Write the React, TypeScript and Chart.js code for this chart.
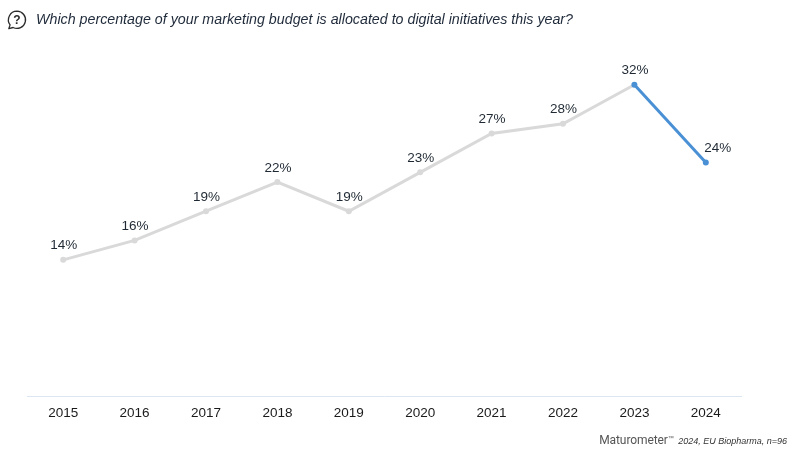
import React, { useEffect, useRef } from "react";
import { Chart, registerables } from "chart.js";

Chart.register(...registerables);

const years = ["2015", "2016", "2017", "2018", "2019", "2020", "2021", "2022", "2023", "2024"];
const percentages = [14, 16, 19, 22, 19, 23, 27, 28, 32, 24];
const GREY = "#d9d9d9";
const BLUE = "#4a90d4";
const FONT = '"Liberation Sans", Arial, sans-serif';
const questionText = "Which percentage of your marketing budget is allocated to digital initiatives this year?";

const valueLabels = {
  id: "valueLabels",
  afterDatasetsDraw(chart: any) {
    const { ctx } = chart;
    const meta = chart.getDatasetMeta(0);
    const last = percentages.length - 1;
    ctx.save();
    ctx.font = `13.5px ${FONT}`;
    ctx.fillStyle = "#1f2933";
    ctx.textAlign = "center";
    ctx.textBaseline = "alphabetic";
    meta.data.forEach((pt: any, i: number) => {
      // the last label sits beside its point, clear of the falling line
      ctx.fillText(`${percentages[i]}%`, i === last ? pt.x + 12 : pt.x + 0.5, pt.y - 10.5);
    });
    ctx.restore();
  },
};

export default function App() {
  const ref = useRef<HTMLCanvasElement | null>(null);
  useEffect(() => {
    document.body.style.margin = "0";
    document.body.style.background = "#fff";
    const chart = new Chart(ref.current as HTMLCanvasElement, {
      type: "line",
      data: {
        labels: years,
        datasets: [
          {
            data: percentages,
            borderWidth: 3,
            borderColor: GREY,
            tension: 0,
            pointRadius: 3,
            pointHoverRadius: 3,
            pointBorderWidth: 0,
            pointBackgroundColor: percentages.map((_, i) => (i >= percentages.length - 2 ? BLUE : GREY)),
            segment: {
              borderColor: (c: any) => (c.p1DataIndex === percentages.length - 1 ? BLUE : GREY),
            },
          },
        ],
      },
      options: {
        responsive: false,
        animation: false,
        layout: { padding: { left: 27.5, right: 58.5, top: 7, bottom: 0 } },
        plugins: { legend: { display: false }, tooltip: { enabled: false }, title: { display: false } },
        scales: {
          x: {
            offset: true,
            afterFit: (s: any) => {
              s.height = 55;
            },
            grid: { display: false, drawTicks: false, offset: true },
            border: { display: true, color: "#dbe6f2", width: 1 },
            ticks: { color: "#1a1a1a", font: { family: FONT, size: 13.5 }, padding: 9, maxRotation: 0 },
          },
          y: { display: false, min: 0, max: 40 },
        },
      },
      plugins: [valueLabels],
    } as any);
    return () => chart.destroy();
  }, []);

  return (
    <div style={{ position: "relative", width: 800, height: 451, overflow: "hidden", background: "#fff" }}>
      <canvas ref={ref} width={800} height={451} style={{ position: "absolute", left: 0, top: 0, display: "block" }} />
      <svg width="22" height="22" viewBox="0 0 22 22" style={{ position: "absolute", left: 6, top: 9 }} fill="none">
        <path
          d="M11 2.2a8.6 8.6 0 1 1-3.9 16.3L2.8 19.6l1.3-3.7A8.6 8.6 0 0 1 11 2.2Z"
          stroke="#2b2b2b"
          strokeWidth="1.3"
          strokeLinejoin="round"
        />
        <text x="11" y="15" textAnchor="middle" fontFamily={FONT} fontSize="12" fontWeight="bold" fill="#2b2b2b">
          ?
        </text>
      </svg>
      <div
        style={{
          position: "absolute",
          left: 36,
          top: 11,
          font: `italic 14.25px ${FONT}`,
          lineHeight: "16px",
          color: "#1f2a3a",
          whiteSpace: "nowrap",
        }}
      >
        {questionText}
      </div>
      <div
        style={{
          position: "absolute",
          right: 13,
          top: 431,
          lineHeight: "14px",
          color: "#555",
          whiteSpace: "nowrap",
          fontFamily: FONT,
        }}
      >
        <span style={{ fontSize: 12, fontFamily: "Roboto, sans-serif", letterSpacing: -0.1 }}>Maturometer</span>
        <span style={{ fontSize: 6, verticalAlign: 4 }}>™</span>{" "}
        <span style={{ fontSize: 9, fontStyle: "italic", color: "#333" }}>2024, EU Biopharma, n=96</span>
      </div>
    </div>
  );
}
